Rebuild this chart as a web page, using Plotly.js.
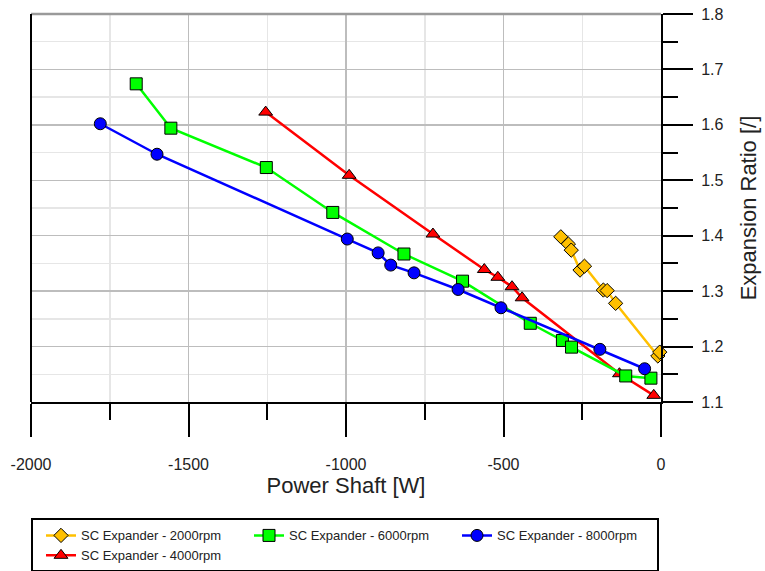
<!DOCTYPE html>
<html>
<head>
<meta charset="utf-8">
<script src="https://cdn.plot.ly/plotly-3.0.1.min.js"></script>
<style>html,body{margin:0;padding:0;background:#fff;}#chart{width:765px;height:571px;}</style>
</head>
<body>
<div id="chart"></div>
<script>
// Series data
var x2000 = [-318, -294, -285, -257, -243, -183, -171, -144, -10, -4];
var y2000 = [1.398, 1.385, 1.374, 1.338, 1.345, 1.302, 1.301, 1.278, 1.183, 1.190];

var x4000 = [-1255, -990, -724, -561, -518, -473, -441, -132, -23];
var y4000 = [1.623, 1.509, 1.403, 1.339, 1.325, 1.308, 1.288, 1.151, 1.112];

var x6000 = [-1666, -1556, -1253, -1042, -816, -630, -415, -313, -284, -112, -32];
var y6000 = [1.674, 1.594, 1.523, 1.442, 1.367, 1.318, 1.242, 1.211, 1.199, 1.147, 1.143];

var x8000 = [-1780, -1600, -996, -898, -858, -784, -644, -508, -194, -52];
var y8000 = [1.602, 1.547, 1.394, 1.369, 1.347, 1.333, 1.303, 1.270, 1.195, 1.160];

var seriesNames = ['SC Expander - 2000rpm', 'SC Expander - 4000rpm', 'SC Expander - 6000rpm', 'SC Expander - 8000rpm'];

var xTickVals = [-2000, -1500, -1000, -500, 0];
var yTickVals = [1.1, 1.2, 1.3, 1.4, 1.5, 1.6, 1.7, 1.8];

var FONT = 'Liberation Sans, Arial, sans-serif';

function tr(x, y, name, color, symbol, size, rank) {
  return {
    x: x, y: y, name: name, type: 'scatter', mode: 'lines+markers',
    line: {color: color, width: 2.5},
    marker: {color: color, symbol: symbol, size: size, line: {color: '#000', width: 1}},
    cliponaxis: false, legendrank: rank
  };
}

var data = [
  tr(x2000, y2000, seriesNames[0], '#FFC000', 'diamond', 11, 1),
  tr(x4000, y4000, seriesNames[1], '#FF0000', 'triangle-up', 12, 4),
  tr(x6000, y6000, seriesNames[2], '#00FF00', 'square', 12, 2),
  tr(x8000, y8000, seriesNames[3], '#0000FF', 'circle', 12, 3)
];

var layout = {
  width: 765, height: 571,
  margin: {l: 31, r: 104, t: 14, b: 169, pad: 0},
  paper_bgcolor: '#fff', plot_bgcolor: '#fff',
  font: {family: FONT, color: '#222'},
  showlegend: true,
  xaxis: {
    range: [-2000, 0], tickvals: xTickVals, ticktext: xTickVals.map(String),
    showline: true, linecolor: '#000', linewidth: 2,
    ticks: 'outside', ticklen: 33, tickwidth: 2, tickcolor: '#000',
    ticklabelstandoff: 14,
    showgrid: true, gridcolor: '#BDBDBD', gridwidth: 1.5, zeroline: false,
    minor: {dtick: 250, ticks: 'outside', ticklen: 16, tickwidth: 2, tickcolor: '#000', showgrid: true, gridcolor: '#E6E6E6', gridwidth: 1.5},
    tickfont: {size: 16, family: FONT, color: '#222'},
    title: {text: 'Power Shaft [W]', font: {size: 22, family: FONT, color: '#222'}, standoff: 3}
  },
  yaxis: {
    range: [1.1, 1.8], side: 'right', tickvals: yTickVals, ticktext: yTickVals.map(function(v){return v.toFixed(1);}),
    showline: true, linecolor: '#000', linewidth: 2,
    ticks: 'outside', ticklen: 30, tickwidth: 2, tickcolor: '#000',
    ticklabelstandoff: 5,
    showgrid: true, gridcolor: '#BDBDBD', gridwidth: 1.5, zeroline: false,
    minor: {dtick: 0.05, ticks: 'outside', ticklen: 15, tickwidth: 2, tickcolor: '#000', showgrid: true, gridcolor: '#E6E6E6', gridwidth: 1.5},
    tickfont: {size: 16, family: FONT, color: '#222'},
    title: {text: 'Expansion Ratio [/]', font: {size: 22, family: FONT, color: '#222'}, standoff: 18}
  },
  legend: {
    orientation: 'h', xref: 'paper', x: 0, xanchor: 'left',
    yref: 'container', y: 0.092, yanchor: 'top',
    bordercolor: '#000', borderwidth: 2, bgcolor: '#fff',
    entrywidth: 155, entrywidthmode: 'pixels', indentation: 8,
    font: {size: 13, family: FONT, color: '#222'},
    traceorder: 'normal'
  },
  shapes: [
    {type: 'line', xref: 'paper', yref: 'paper', x0: 0, x1: 1, y0: 1, y1: 1, line: {color: '#9A9A9A', width: 2.5}, layer: 'above'},
    {type: 'line', xref: 'paper', yref: 'paper', x0: 0, x1: 0, y0: 0, y1: 1, line: {color: '#000', width: 2}, layer: 'above'}
  ]
};

Plotly.newPlot('chart', data, layout, {displayModeBar: false, staticPlot: true});
</script>
</body>
</html>
